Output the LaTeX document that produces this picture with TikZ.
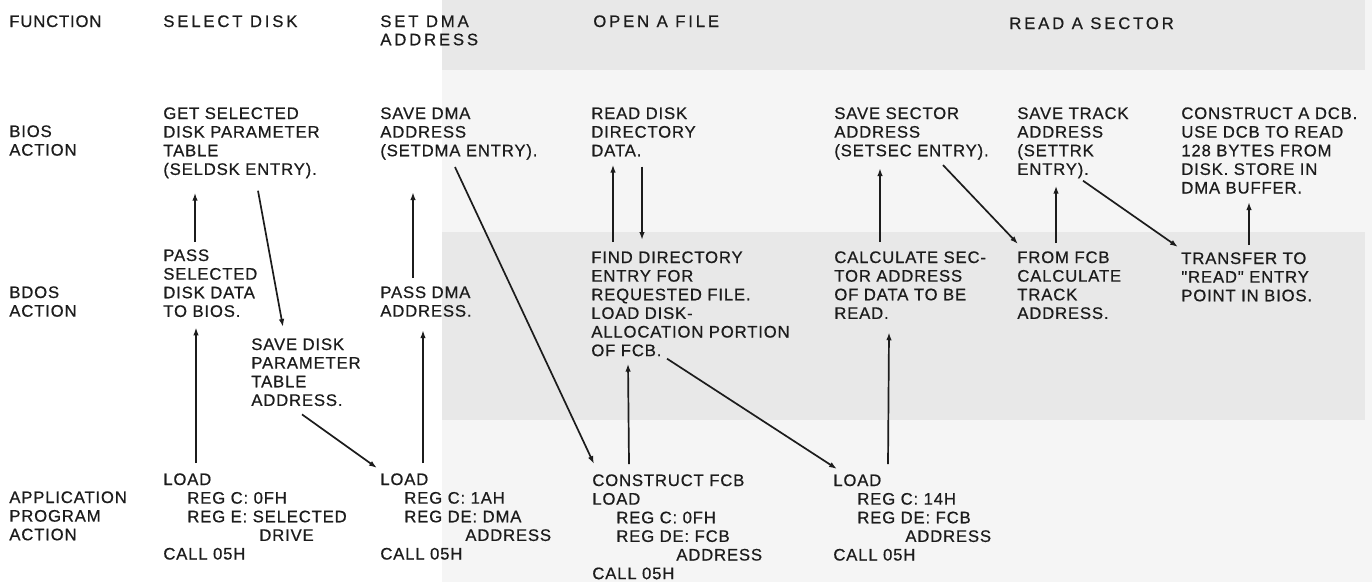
\documentclass[tikz,border=0pt]{standalone}
\usepackage{fontspec}
\setmainfont{Liberation Sans}[LetterSpace=5, Ligatures=TeXOff, FakeBold=0.6]
\usepackage{tikz}
\usetikzlibrary{arrows.meta}
\usepackage{xcolor}
\definecolor{inkblack}{HTML}{1C1C1C}
\definecolor{pagefaint}{HTML}{F5F5F5}
\definecolor{pageband}{HTML}{E8E8E8}
\newlength\pxu
\setlength\pxu{0.2mm}
\newcommand\ind[1]{\hspace*{#1\pxu}}

\begin{document}
\begin{tikzpicture}[
    x=0.2mm, y=-0.2mm,
    txt/.style={anchor=north west, inner sep=0pt, align=left, text=inkblack, font=\fontsize{9.5}{10.6}\selectfont},
    head/.style={txt, font=\fontsize{9.5}{10.4}\selectfont\addfontfeature{LetterSpace=17}},
    arrow/.style={-{Latex[length=1.6mm,width=1.1mm]}, line width=0.34mm, color=inkblack},
]
\useasboundingbox (0,0) rectangle (1372,582);

% === page shading ===
\fill[white] (0,0) rectangle (1372,582);
\fill[pagefaint] (442,0) rectangle (1372,582);
\fill[pageband] (442,0) rectangle (1365,70);
\fill[pageband] (442,232) rectangle (1365,420);

% === Row labels ===
\node[txt] (fnlbl) at (9,15) {FUNCTION};
\node[txt] (bioslbl) at (9,125) {BIOS\\ACTION};
\node[txt] (bdoslbl) at (9,286) {BDOS\\ACTION};
\node[txt] (applbl) at (9,491) {APPLICATION\\PROGRAM\\ACTION};

% === Row 0: functions ===
\node[head] (fsel) at (163,15) {SELECT DISK};
\node[head] (fdma) at (380,15) {SET DMA\\ADDRESS};
\node[head] (fopen) at (593,15) {OPEN A FILE};
\node[head] (fread) at (1009,17) {READ A SECTOR};

% === Row 1: BIOS action ===
\node[txt] (bsel) at (163,107) {GET SELECTED\\DISK PARAMETER\\TABLE\\(SELDSK ENTRY).};
\node[txt] (bdma) at (380,107) {SAVE DMA\\ADDRESS\\(SETDMA ENTRY).};
\node[txt] (bdir) at (591,107) {READ DISK\\DIRECTORY\\DATA.};
\node[txt] (bsec) at (834,107) {SAVE SECTOR\\ADDRESS\\(SETSEC ENTRY).};
\node[txt] (btrk) at (1017,107) {SAVE TRACK\\ADDRESS\\(SETTRK\\ENTRY).};
\node[txt] (bdcb) at (1181,107) {CONSTRUCT A DCB.\\USE DCB TO READ\\128 BYTES FROM\\DISK. STORE IN\\DMA BUFFER.};

% === Row 2: BDOS action ===
\node[txt] (dsel) at (163,249) {PASS\\SELECTED\\DISK DATA\\TO BIOS.};
\node[txt] (dtbl) at (251,338) {SAVE DISK\\PARAMETER\\TABLE\\ADDRESS.};
\node[txt] (ddma) at (380,286) {PASS DMA\\ADDRESS.};
\node[txt] (dfind) at (591,251) {FIND DIRECTORY\\ENTRY FOR\\REQUESTED FILE.\\LOAD DISK-\\ALLOCATION PORTION\\OF FCB.};
\node[txt] (dcalc) at (834,251) {CALCULATE SEC-\\TOR ADDRESS\\OF DATA TO BE\\READ.};
\node[txt] (dtrk) at (1017,251) {FROM FCB\\CALCULATE\\TRACK\\ADDRESS.};
\node[txt] (dxfer) at (1181,252) {TRANSFER TO\\"READ" ENTRY\\POINT IN BIOS.};

% === Row 3: application program action ===
\node[txt] (asel) at (163,473) {LOAD\\\ind{24}REG C: 0FH\\\ind{24}REG E: SELECTED\\\ind{96}DRIVE\\CALL 05H};
\node[txt] (adma) at (380,473) {LOAD\\\ind{24}REG C: 1AH\\\ind{24}REG DE: DMA\\\ind{85}ADDRESS\\CALL 05H};
\node[txt] (afcb) at (592,474) {CONSTRUCT FCB\\LOAD\\\ind{24}REG C: 0FH\\\ind{24}REG DE: FCB\\\ind{84}ADDRESS\\CALL 05H};
\node[txt] (asec) at (833,474) {LOAD\\\ind{24}REG C: 14H\\\ind{24}REG DE: FCB\\\ind{72}ADDRESS\\CALL 05H};

% === Select disk ===
\draw[arrow] ([shift={(32,-7)}]dsel.north west) -- ([shift={(32,14)}]bsel.south west);
\draw[arrow] ([shift={(33,-10)}]asel.north west) -- ([shift={(33,10)}]dsel.south west);
\draw[arrow] ([shift={(95,12)}]bsel.south west) -- ([shift={(32,-11)}]dtbl.north west);
\draw[arrow] ([shift={(51,8)}]dtbl.south west) -- ([shift={(-3,-5)}]adma.north west);

% === Set DMA address ===
\draw[arrow] ([shift={(33,-8)}]ddma.north west) -- ([shift={(33,32)}]bdma.south west);
\draw[arrow] ([shift={(43,-10)}]adma.north west) -- ([shift={(43,13)}]ddma.south west);
\draw[arrow] ([shift={(75,7)}]bdma.south west) -- ([shift={(2,-10)}]afcb.north west);

% === Open a file ===
\draw[arrow] ([shift={(22,-9)}]dfind.north west) -- ([shift={(22,8)}]bdir.south west);
\draw[arrow] ([shift={(51,10)}]bdir.south west) -- ([shift={(51,-11)}]dfind.north west);
\draw[arrow] ([shift={(37,-10)}]afcb.north west) -- ([shift={(37,7)}]dfind.south west);
\draw[arrow] ([shift={(76,2)}]dfind.south west) -- ([shift={(4,-5)}]asec.north west);

% === Read a sector ===
\draw[arrow] ([shift={(46,-9)}]dcalc.north west) -- ([shift={(46,8)}]bsec.south west);
\draw[arrow] ([shift={(55,-10)}]asec.north west) -- ([shift={(55,13)}]dcalc.south west);
\draw[arrow] ([shift={(109,5)}]bsec.south west) -- ([shift={(1,-7)}]dtrk.north west);
\draw[arrow] ([shift={(39,-8)}]dtrk.north west) -- ([shift={(39,7)}]btrk.south west);
\draw[arrow] ([shift={(66,2)}]btrk.south west) -- ([shift={(-3,-5)}]dxfer.north west);
\draw[arrow] ([shift={(68,-7)}]dxfer.north west) -- ([shift={(68,8)}]bdcb.south west);

\end{tikzpicture}
\end{document}
